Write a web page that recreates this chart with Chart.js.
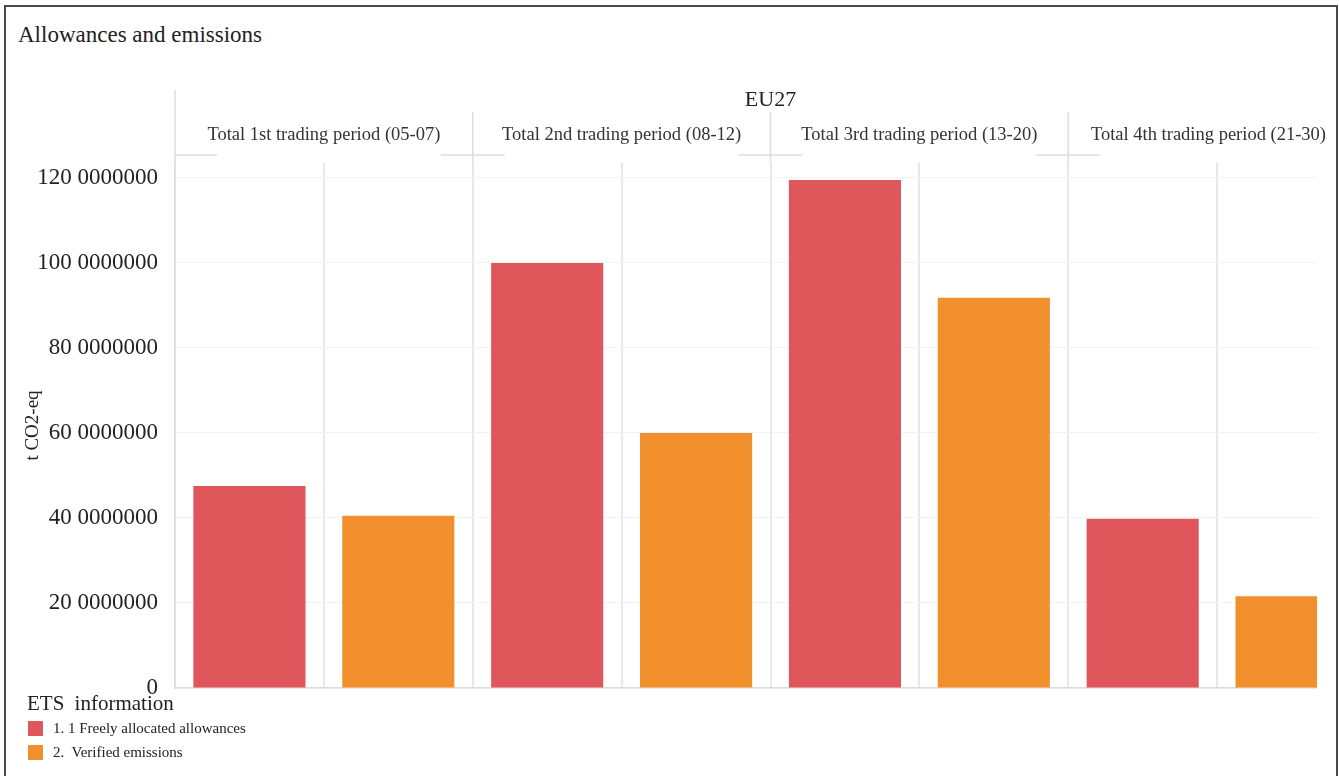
<!DOCTYPE html>
<html lang="en">
<head>
  <meta charset="UTF-8" />
  <title>Allowances and emissions</title>
  <script src="https://cdn.jsdelivr.net/npm/chart.js"></script>
  <style>
    body { margin: 0; background: #fff; font-family: 'Liberation Serif', serif; color: #222; overflow: hidden; }
    #frame { position: absolute; left: 4px; top: 5px; width: 1330px; height: 800px; border: 2px solid #4a4a4a; }
    #title { position: absolute; left: 18px; top: 22px; font-size: 23px; color: #222; }
    #clip { position: absolute; left: 0; top: 0; width: 1333px; height: 776px; overflow: hidden; }
    #legend { position: absolute; left: 27px; top: 691px; }
    #legend .lt { font-size: 21px; word-spacing: 5px; margin-bottom: 0; }
    #legend .item { display: flex; align-items: center; font-size: 15px; height: 24px; white-space: pre; }
    #legend .sw { width: 15px; height: 15px; margin-right: 10px; margin-left: 1px; }
  </style>
</head>
<body>

  <div id="frame"></div>
  <div id="title">Allowances and emissions</div>

  <div id="clip">
    <canvas id="chart" width="1366" height="776"></canvas>
  </div>

  <div id="legend"></div>

  <script>
    const periods = [
      'Total 1st trading period (05-07)',
      'Total 2nd trading period (08-12)',
      'Total 3rd trading period (13-20)',
      'Total 4th trading period (21-30)'
    ];
    const seriesNames = ['1. 1 Freely allocated allowances', '2.  Verified emissions'];
    const allowances = [475000000, 1000000000, 1195000000, 398000000];
    const emissions = [405000000, 600000000, 918000000, 216000000];
    const tickValues = [0, 200000000, 400000000, 600000000, 800000000, 1000000000, 1200000000];
    const tickLabels = ['0', '20 0000000', '40 0000000', '60 0000000', '80 0000000', '100 0000000', '120 0000000'];
    const colors = ['#e0575b', '#f18f2c'];

    // one column per period and series
    const categories = periods.flatMap(p => seriesNames.map(s => p + ' | ' + s));
    const seriesValues = [allowances, emissions];
    const serif = 'Liberation Serif';
    const plotCutX = 1317; // the original plot is cut off on the right

    const datasets = seriesNames.map((name, s) => ({
      label: name,
      data: categories.map((c, i) => (i % 2 === s ? seriesValues[s][Math.floor(i / 2)] : null)),
      backgroundColor: colors[s],
      borderWidth: 0
    }));

    // cut grid + bars at the right, then draw the period headers on top
    const periodHeaders = {
      id: 'periodHeaders',
      beforeDraw(chart) {
        const ctx = chart.ctx;
        ctx.save();
        ctx.beginPath();
        ctx.rect(0, 0, plotCutX, chart.height);
        ctx.clip();
      },
      afterDatasetsDraw(chart) {
        chart.ctx.restore();
      },
      afterDraw(chart) {
        const ctx = chart.ctx;
        const x = chart.scales.x;
        const area = chart.chartArea;
        ctx.save();
        ctx.strokeStyle = '#dedede';
        ctx.lineWidth = 1.5;
        ctx.beginPath();
        ctx.moveTo(area.left, 90); ctx.lineTo(area.left, area.top);
        ctx.moveTo(area.left, 155); ctx.lineTo(area.left + 42, 155);
        for (let g = 1; g < periods.length; g++) {
          const bx = (x.getPixelForValue(2 * g - 1) + x.getPixelForValue(2 * g)) / 2;
          ctx.moveTo(bx, 112); ctx.lineTo(bx, area.top);
          ctx.moveTo(bx - 32, 155); ctx.lineTo(bx + 32, 155);
        }
        ctx.stroke();

        ctx.fillStyle = '#333';
        ctx.textAlign = 'center';
        ctx.textBaseline = 'middle';
        ctx.font = '18.5px "' + serif + '"';
        periods.forEach((p, g) => {
          let cx = (x.getPixelForValue(2 * g) + x.getPixelForValue(2 * g + 1)) / 2;
          const half = ctx.measureText(p).width / 2;
          cx = Math.min(cx, 1326 - half); // keep the last label inside the frame
          ctx.fillText(p, cx, 135);
        });
        ctx.font = '22px "' + serif + '"';
        ctx.fillStyle = '#222';
        ctx.fillText('EU27', (x.left + x.right) / 2, 100);
        ctx.restore();
      }
    };

    new Chart(document.getElementById('chart'), {
      type: 'bar',
      data: { labels: categories, datasets: datasets },
      options: {
        responsive: false,
        animation: false,
        layout: { padding: { top: 163, bottom: 88, left: 0, right: 0 } },
        datasets: { bar: { grouped: false, barPercentage: 0.753, categoryPercentage: 1 } },
        plugins: { legend: { display: false }, tooltip: { enabled: false } },
        scales: {
          x: {
            ticks: { display: false },
            grid: { color: '#e8e8e8', lineWidth: 2, drawTicks: false, offset: true },
            border: { color: '#dcdcdc', width: 1.5 }
          },
          y: {
            min: 0,
            max: 1235000000,
            afterBuildTicks: scale => { scale.ticks = tickValues.map(v => ({ value: v })); },
            afterFit: scale => { scale.width = 175; },
            ticks: {
              padding: 17,
              color: '#222',
              font: { family: serif, size: 23 },
              callback: v => tickLabels[tickValues.indexOf(v)]
            },
            grid: { color: '#f2f2f2', drawTicks: false },
            border: { color: '#dcdcdc', width: 1.5 },
            title: {
              display: true,
              text: 't CO2-eq',
              color: '#222',
              padding: { top: 22, bottom: 0 },
              font: { family: serif, size: 19 }
            }
          }
        }
      },
      plugins: [periodHeaders]
    });

    // legend
    const legend = document.getElementById('legend');
    legend.innerHTML = '<div class="lt">ETS information</div>' +
      seriesNames.map((n, i) =>
        '<div class="item"><span class="sw" style="background:' + colors[i] + '"></span>' + n + '</div>'
      ).join('');
  </script>

</body>
</html>
